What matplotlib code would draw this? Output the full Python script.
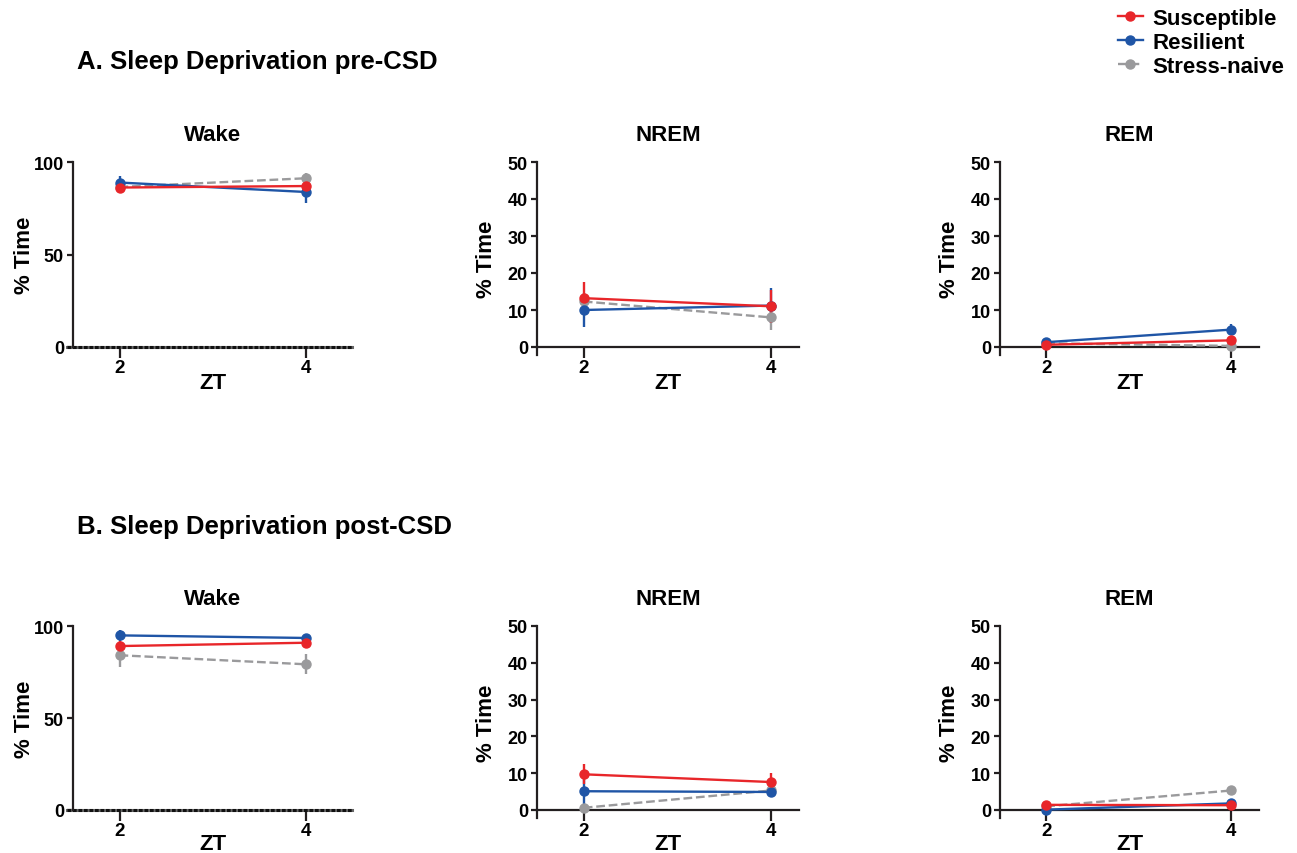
import matplotlib
matplotlib.use('Agg')
import matplotlib.pyplot as plt
from matplotlib.lines import Line2D

plt.rcParams['font.family'] = ['Liberation Sans', 'DejaVu Sans']
plt.rcParams['font.weight'] = 'bold'

# --- datos ---
zt = [2, 4]
grupos = ['Susceptible', 'Resilient', 'Stress-naive']
colores = {'Susceptible': '#E8262A', 'Resilient': '#1F55A6', 'Stress-naive': '#9A9A9C'}

# pre-CSD (fila A): media y error por grupo
pre_wake = {'Susceptible': [86.2, 87.0], 'Resilient': [88.9, 83.8], 'Stress-naive': [86.5, 91.2]}
pre_wake_err = {'Susceptible': [3.0, 4.0], 'Resilient': [3.5, 6.0], 'Stress-naive': [2.0, 3.0]}
pre_nrem = {'Susceptible': [13.2, 11.0], 'Resilient': [10.0, 11.2], 'Stress-naive': [12.3, 8.0]}
pre_nrem_err = {'Susceptible': [4.3, 4.5], 'Resilient': [4.6, 4.8], 'Stress-naive': [1.5, 3.5]}
pre_rem = {'Susceptible': [0.6, 1.8], 'Resilient': [1.3, 4.7], 'Stress-naive': [1.0, 0.3]}
pre_rem_err = {'Susceptible': [0.5, 0.8], 'Resilient': [0.6, 1.5], 'Stress-naive': [0.5, 0.4]}

# post-CSD (fila B)
post_wake = {'Susceptible': [89.1, 90.9], 'Resilient': [94.9, 93.5], 'Stress-naive': [84.1, 79.2]}
post_wake_err = {'Susceptible': [2.5, 1.5], 'Resilient': [3.0, 1.5], 'Stress-naive': [6.5, 5.5]}
post_nrem = {'Susceptible': [9.7, 7.6], 'Resilient': [5.1, 4.9], 'Stress-naive': [0.6, 5.3]}
post_nrem_err = {'Susceptible': [2.7, 2.5], 'Resilient': [5.0, 1.5], 'Stress-naive': [0.5, 0.5]}
post_rem = {'Susceptible': [1.4, 1.3], 'Resilient': [0.1, 1.8], 'Stress-naive': [1.0, 5.3]}
post_rem_err = {'Susceptible': [0.4, 0.4], 'Resilient': [0.3, 0.4], 'Stress-naive': [0.4, 0.5]}

filas = [
    ('A. Sleep Deprivation pre-CSD', [('Wake', pre_wake, pre_wake_err),
                                      ('NREM', pre_nrem, pre_nrem_err),
                                      ('REM', pre_rem, pre_rem_err)]),
    ('B. Sleep Deprivation post-CSD', [('Wake', post_wake, post_wake_err),
                                       ('NREM', post_nrem, post_nrem_err),
                                       ('REM', post_rem, post_rem_err)]),
]

W, H = 1297, 854
fig = plt.figure(figsize=(W / 100, H / 100), dpi=100)

# posiciones en pixeles: (izq, der) por columna; (arriba, abajo) por fila
cols_px = [(73, 352), (537, 799), (1000, 1259)]
rows_px = [(163, 348), (627, 811)]
header_y = [62, 527]


def px_axes(x0, x1, ytop, ybot):
    return fig.add_axes([x0 / W, 1 - ybot / H, (x1 - x0) / W, (ybot - ytop) / H])


for r, (header, paneles) in enumerate(filas):
    fig.text(77 / W, 1 - header_y[r] / H, header, fontsize=18.5, fontweight='bold',
             va='center', ha='left')
    ytop, ybot = rows_px[r]
    for c, (nombre, medias, errores) in enumerate(paneles):
        x0, x1 = cols_px[c]
        es_wake = nombre == 'Wake'
        if es_wake:
            ax = px_axes(x0, x1, ytop, ybot)
            ymax = 100
            ax.set_ylim(0, ymax)
            ax.set_xlim(1.5, 4.5)
            ax.set_yticks([0, 50, 100])
        else:
            ymax = 50
            extra = 8  # el eje y baja por debajo del eje x
            ax = px_axes(x0, x1, ytop, ybot + extra)
            ax.set_ylim(-extra / (ybot - ytop) * ymax, ymax)
            ax.set_xlim(1.5, 4.3)
            ax.set_yticks([0, 10, 20, 30, 40, 50])
            ax.spines['bottom'].set_position(('data', 0))

        for g in ['Stress-naive', 'Resilient', 'Susceptible']:
            ls = '--' if g == 'Stress-naive' else '-'
            ax.errorbar(zt, medias[g], yerr=errores[g], fmt='o', ls=ls,
                        color=colores[g], ecolor=colores[g], markersize=6.5,
                        lw=1.7, elinewidth=1.7, capsize=0, clip_on=False, zorder=3)

        ax.spines['top'].set_visible(False)
        ax.spines['right'].set_visible(False)
        for s in ['left', 'bottom']:
            ax.spines[s].set_linewidth(1.6)
            ax.spines[s].set_color('#231F20')

        if es_wake:
            # eje x punteado como en el original
            ax.spines['bottom'].set_visible(False)
            ax.add_line(Line2D([-0.022, 1.0], [0, 0], transform=ax.transAxes,
                               color='#666666', lw=2.2, clip_on=False, zorder=2))
            ax.add_line(Line2D([-0.022, 1.0], [0, 0], transform=ax.transAxes,
                               color='#111111', lw=2.2, ls=(0, (1.2, 0.6)),
                               clip_on=False, zorder=2))

        ax.set_xticks(zt)
        ax.set_xticklabels(['2', '4'])
        ax.tick_params(axis='y', length=4.5, width=1.6, labelsize=13, pad=2, colors='#231F20')
        ax.tick_params(axis='x', length=8, width=1.6, labelsize=13.5, pad=1, colors='#231F20')
        for lab in ax.get_xticklabels() + ax.get_yticklabels():
            lab.set_fontweight('bold')
            lab.set_color('black')

        ax.set_title(nombre, fontsize=16, fontweight='bold', pad=16)
        ax.set_ylabel('% Time', fontsize=16, fontweight='bold', labelpad=-1 if es_wake else 8)
        ax.set_xlabel('ZT', fontsize=16, fontweight='bold', labelpad=-3 if r == 0 else -5)

# leyenda arriba a la derecha
handles = []
for g in grupos:
    ls = '--' if g == 'Stress-naive' else '-'
    handles.append(Line2D([0], [0], color=colores[g], marker='o', ls=ls, lw=1.7,
                          markersize=6.5, label=g))
fig.legend(handles=handles, loc='upper right', bbox_to_anchor=(1.004, 1.01),
           frameon=False, handlelength=1.1, handletextpad=0.45,
           labelspacing=0.12, borderpad=0.3, prop={'weight': 'bold', 'size': 16})

fig.savefig('out.png', dpi=100)
